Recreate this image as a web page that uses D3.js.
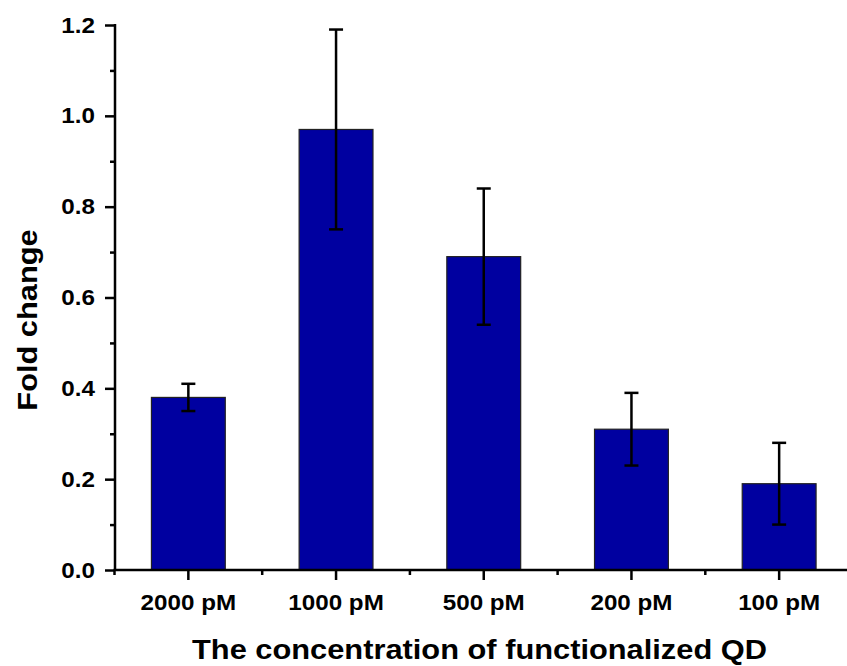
<!DOCTYPE html>
<html lang="en">
<head>
  <meta charset="utf-8" />
  <title>Fold change</title>
  <script src="https://cdn.jsdelivr.net/npm/d3@7/dist/d3.min.js"></script>
  <style>
    html, body { margin: 0; background: #fff; }
    svg { display: block; }
    text { font-family: "Liberation Sans", Arial, sans-serif; font-weight: bold; fill: #000; }
  </style>
</head>
<body>
<script>
// data
const categories = ["2000 pM", "1000 pM", "500 pM", "200 pM", "100 pM"];
const values     = [0.38, 0.97, 0.69, 0.31, 0.19];
const errors     = [0.03, 0.22, 0.15, 0.08, 0.09];
const yTicks     = [0, 0.2, 0.4, 0.6, 0.8, 1.0, 1.2];
const yMinor     = [0.1, 0.3, 0.5, 0.7, 0.9, 1.1];

const W = 847, H = 666;
const STRETCH = 1.1;   // the source font runs a bit wider than Arial

const svg = d3.select("body").append("svg")
  .attr("width", W).attr("height", H);

const x = d3.scaleBand()
  .domain(categories)
  .range([114.5, 853])
  .paddingInner(0.5)
  .paddingOuter(0.25);

const y = d3.scaleLinear().domain([0, 1.2]).range([570, 25]);

const data = categories.map((c, i) => ({ c, v: values[i], e: errors[i] }));

// bars
svg.append("g").selectAll("rect")
  .data(data)
  .join("rect")
    .attr("x", d => x(d.c))
    .attr("y", d => y(d.v))
    .attr("width", x.bandwidth())
    .attr("height", d => y(0) - y(d.v))
    .attr("fill", "#0000a0")
    .attr("stroke", "#222")
    .attr("stroke-width", 1.2);

// error bars
const eb = svg.append("g").attr("stroke", "#000").attr("stroke-width", 2.5);
data.forEach(d => {
  const cx = x(d.c) + x.bandwidth() / 2;
  eb.append("line").attr("x1", cx).attr("x2", cx)
    .attr("y1", y(d.v + d.e)).attr("y2", y(d.v - d.e));
  [d.v + d.e, d.v - d.e].forEach(v => {
    eb.append("line").attr("x1", cx - 7).attr("x2", cx + 7)
      .attr("y1", y(v)).attr("y2", y(v));
  });
});

// y axis
const yAxis = svg.append("g").attr("transform", "translate(115,0)")
  .call(d3.axisLeft(y).tickValues(yTicks).tickFormat(d3.format(".1f"))
    .tickSize(10).tickPadding(10));
yAxis.select(".domain").attr("d", `M0,${y(1.2) - 1}V${y(0)}`);
yAxis.selectAll(".tick text").attr("font-size", 22);
svg.append("g").attr("transform", "translate(115,0)")
  .call(d3.axisLeft(y).tickValues(yMinor).tickSize(5).tickFormat(""))
  .select(".domain").remove();

// x axis
const xAxis = svg.append("g").attr("transform", `translate(0,${y(0)})`)
  .call(d3.axisBottom(x).tickSize(10).tickPadding(14));
xAxis.select(".domain").attr("d", `M113.5,0H${W}`);
xAxis.selectAll(".tick text").attr("font-size", 22);
const bounds = categories.map(c => x(c) - x.step() * x.paddingInner() / 2);
svg.append("g").attr("stroke", "#000").attr("stroke-width", 2.5)
  .selectAll("line").data(bounds).join("line")
    .attr("x1", d => d).attr("x2", d => d)
    .attr("y1", y(0)).attr("y2", y(0) + 5);

svg.selectAll(".domain, .tick line").attr("stroke", "#000").attr("stroke-width", 2.5);

// axis titles
svg.append("text")
  .attr("x", 479.5).attr("y", 659)
  .attr("text-anchor", "middle")
  .attr("font-size", 28)
  .text("The concentration of functionalized QD");

svg.append("text")
  .attr("transform", "translate(37,320) rotate(-90)")
  .attr("text-anchor", "middle")
  .attr("font-size", 28)
  .text("Fold change");

// widen glyphs to match the source
svg.selectAll("text").each(function () {
  const len = this.getComputedTextLength();
  if (len > 0) d3.select(this).attr("textLength", len * STRETCH).attr("lengthAdjust", "spacingAndGlyphs");
});
</script>
</body>
</html>
